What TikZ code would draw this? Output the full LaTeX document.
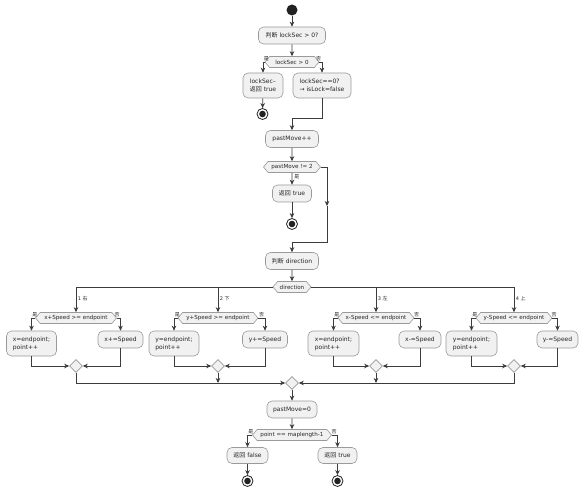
\documentclass[tikz,border=0pt]{standalone}
\usepackage{fontspec}
\setmainfont{DejaVu Sans}
\newfontfamily\cjkf{Noto Sans CJK SC}
\newcommand\zhs[1]{{\cjkf #1}}
\usetikzlibrary{shapes.geometric,shapes.symbols,arrows.meta,calc}
\definecolor{boxfill}{HTML}{F1F1F1}
\definecolor{boxline}{HTML}{9A9A9A}
\definecolor{connc}{HTML}{3C3C3C}
\definecolor{dotc}{HTML}{222222}
\tikzset{
 act/.style={draw=boxline, fill=boxfill, rounded corners=5pt, line width=0.6pt, inner xsep=0pt, inner ysep=3pt, minimum height=17pt, align=left, font=\fontsize{6}{8}\selectfont, text=black!85},
 dec/.style={draw=boxline, fill=boxfill, line width=0.6pt, shape=signal, signal to=east and west, signal pointer angle=100, inner xsep=0pt, inner ysep=1pt, minimum height=11pt, font=\fontsize{5.6}{7}\selectfont, text=black!85},
 mrg/.style={draw=boxline, fill=boxfill, line width=0.6pt, diamond, minimum width=13pt, minimum height=13pt, inner sep=0pt},
 conn/.style={draw=connc, line width=0.7pt},
 arr/.style={conn, -{Stealth[length=5pt,width=4.5pt,inset=1.5pt]}},
 lbl/.style={font=\fontsize{5}{6}\selectfont, inner sep=0.6pt, text=black!85},
 startdot/.style={circle, fill=dotc, minimum size=11pt, inner sep=0pt},
 enddot/.style={circle, draw=dotc, line width=0.8pt, fill=white, minimum size=11pt, inner sep=0pt, path picture={\fill[dotc] (path picture bounding box.center) circle (3.3pt);}},
}
\begin{document}
\begin{tikzpicture}[x=1pt,y=-1pt]
\fill[white] (0,0) rectangle (584,492);
\useasboundingbox (0,0) rectangle (584,492);
% top part
\node[startdot] (s) at (292,10) {};
\node[act, minimum width=67pt] (a1) at (292,35.5) {\zhs{判断} lockSec > 0?};
\node[dec, minimum width=54pt] (d1) at (292,62) {lockSec > 0};
\node[act, minimum width=40pt, minimum height=25pt] (b1L) at (263,85.5) {lockSec--\\\zhs{返回} true};
\node[act, minimum width=58pt, minimum height=25pt] (b1R) at (322,85.5) {lockSec==0?\\→ isLock=false};
\node[enddot] (e1) at (262.5,114) {};
\node[act, minimum width=53pt] (p1) at (292,139) {pastMove++};
\node[dec, minimum width=57pt] (d2) at (292,167) {pastMove != 2};
\node[act, minimum width=39pt] (r2) at (292,193.5) {\zhs{返回} true};
\node[enddot] (e2) at (292,224) {};
\node[act, minimum width=53pt] (a2) at (292,261) {\zhs{判断} direction};
\node[dec, minimum width=38pt] (d3) at (292,287) {direction};
% branches
\node[dec, minimum width=81pt] (h1) at (76,318) {x+Speed >= endpoint};
\node[dec, minimum width=80pt] (h2) at (218,318) {y+Speed >= endpoint};
\node[dec, minimum width=76pt] (h3) at (376,318) {x-Speed <= endpoint};
\node[dec, minimum width=76pt] (h4) at (514,318) {y-Speed <= endpoint};
\node[act, minimum width=50pt, minimum height=25pt] (L1) at (31.5,343.5) {x=endpoint;\\point++};
\node[act, minimum width=45pt] (R1) at (120.5,339.5) {x+=Speed};
\node[act, minimum width=50pt, minimum height=25pt] (L2) at (174,343.5) {y=endpoint;\\point++};
\node[act, minimum width=45pt] (R2) at (265,339.5) {y+=Speed};
\node[act, minimum width=51pt, minimum height=25pt] (L3) at (333.5,343.5) {x=endpoint;\\point++};
\node[act, minimum width=42pt] (R3) at (420,339.5) {x-=Speed};
\node[act, minimum width=51pt, minimum height=25pt] (L4) at (471.5,343.5) {y=endpoint;\\point++};
\node[act, minimum width=41pt] (R4) at (557.5,339.5) {y-=Speed};
\node[mrg] (m1) at (76,366) {};
\node[mrg] (m2) at (218,366) {};
\node[mrg] (m3) at (376,366) {};
\node[mrg] (m4) at (514,366) {};
\node[mrg] (M) at (292,383) {};
% bottom
\node[act, minimum width=50pt] (pm) at (292,409.5) {pastMove=0};
\node[dec, minimum width=79pt] (d4) at (292,435) {point == maplength-1};
\node[act, minimum width=41pt, minimum height=16pt] (f) at (247.5,455.5) {\zhs{返回} false};
\node[act, minimum width=39pt, minimum height=16pt] (t) at (337.5,455.5) {\zhs{返回} true};
\node[enddot] (fe) at (247.5,481) {};
\node[enddot] (te) at (337.5,481) {};
% connectors top
\draw[arr] (s) -- (a1);
\draw[arr] (a1) -- (d1);
\draw[arr] (d1.west) -| (b1L.north);
\draw[arr] (d1.east) -| (b1R.north);
\node[lbl, anchor=south west] at (b1L.north |- d1.west) {\zhs{是}};
\node[lbl, anchor=south east] at (b1R.north |- d1.east) {\zhs{否}};
\draw[arr] (b1L) -- (e1);
\coordinate (j1) at (322,118);
\coordinate (j2) at (292,118);
\draw[conn] (b1R.south) -- (j1) -- (j2);
\draw[arr] (j2) -- (p1.north);
\draw[arr] (p1) -- (d2);
\draw[arr] (d2) -- (r2);
\node[lbl, anchor=north west] at ($(d2.south)+(1.5,0.5)$) {\zhs{是}};
\draw[arr] (r2) -- (e2);
\coordinate (k1) at (327,167);
\coordinate (k2) at (327,206);
\coordinate (k3) at (327,242);
\coordinate (k4) at (292,242);
\draw[conn] (d2.east) -- (k1);
\draw[arr] (k1) -- (k2);
\draw[conn] (k2) -- (k3) -- (k4);
\draw[arr] (k4) -- (a2.north);
\draw[arr] (a2) -- (d3);
% direction split
\draw[arr] (d3.west) -| (h1.north);
\draw[arr] (d3.east) -| (h4.north);
\draw[arr] (h2.north |- d3.west) -- (h2.north);
\draw[arr] (h3.north |- d3.east) -- (h3.north);
\node[lbl, anchor=west] at (77,298.5) {1 \zhs{右}};
\node[lbl, anchor=west] at (219,298.5) {2 \zhs{下}};
\node[lbl, anchor=west] at (377,298.5) {3 \zhs{左}};
\node[lbl, anchor=west] at (515,298.5) {4 \zhs{上}};
% branch internals
\foreach \h/\l/\r in {h1/L1/R1, h2/L2/R2, h3/L3/R3, h4/L4/R4}{
  \draw[arr] (\h.west) -| (\l.north);
  \draw[arr] (\h.east) -| (\r.north);
  \node[lbl, anchor=south west] at (\l.north |- \h.west) {\zhs{是}};
  \node[lbl, anchor=south east] at (\r.north |- \h.east) {\zhs{否}};
}
\foreach \m/\l/\r in {m1/L1/R1, m2/L2/R2, m3/L3/R3, m4/L4/R4}{
  \draw[arr] (\l.south) |- (\m.west);
  \draw[arr] (\r.south) |- (\m.east);
}
\draw[arr] (m1.south) |- (M.west);
\draw[arr] (m4.south) |- (M.east);
\draw[arr] (m2.south) -- (m2.south |- M.west);
\draw[arr] (m3.south) -- (m3.south |- M.east);
% bottom connectors
\draw[arr] (M.south) -- (pm.north);
\draw[arr] (pm) -- (d4);
\draw[arr] (d4.west) -| (f.north);
\draw[arr] (d4.east) -| (t.north);
\node[lbl, anchor=south west] at (f.north |- d4.west) {\zhs{是}};
\node[lbl, anchor=south east] at (t.north |- d4.east) {\zhs{否}};
\draw[arr] (f) -- (fe);
\draw[arr] (t) -- (te);
\end{tikzpicture}
\end{document}
